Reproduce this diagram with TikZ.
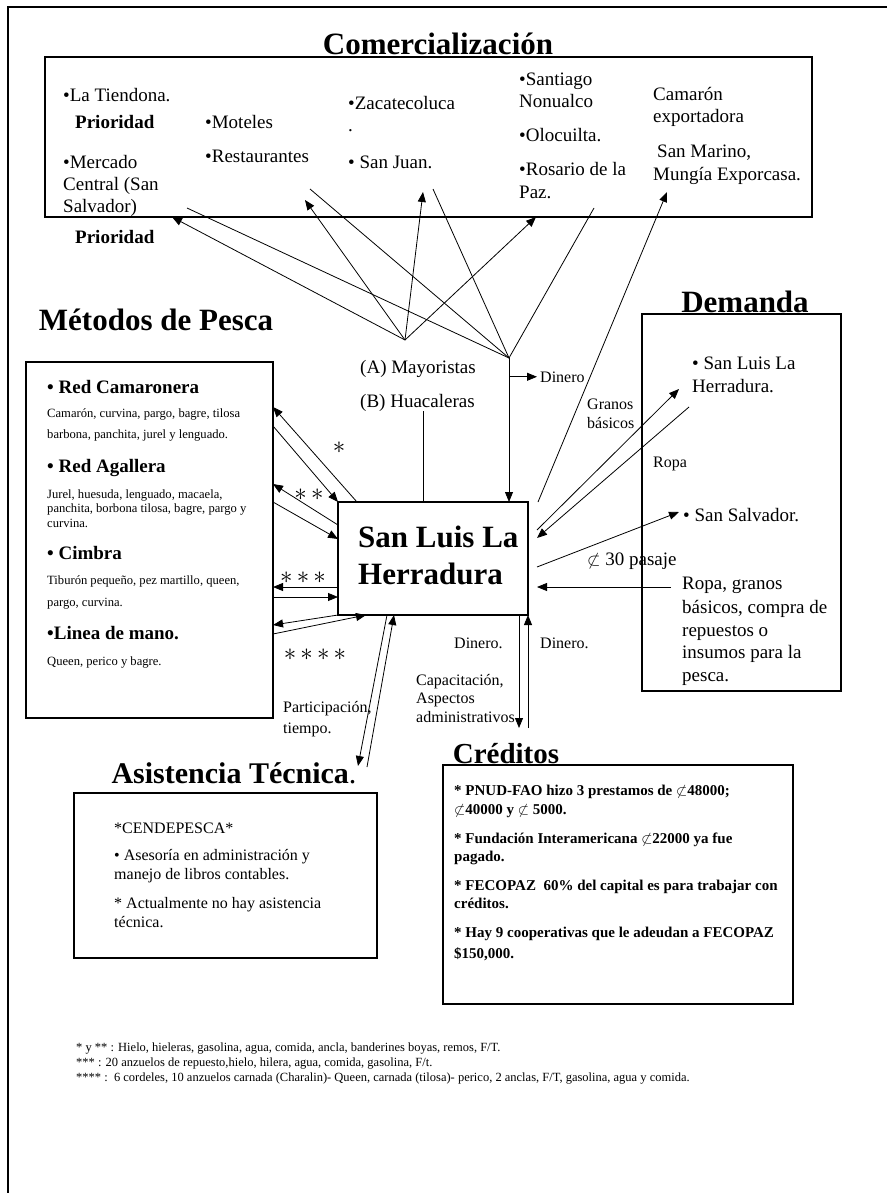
\documentclass[tikz,border=0pt]{standalone}
\usepackage{fontspec}
\setmainfont{Liberation Serif}
\usetikzlibrary{arrows.meta}

\begin{document}
\begin{tikzpicture}[x=1pt,y=-1pt]

\tikzset{box/.style={draw, line width=1.2pt, outer sep=0pt, inner sep=0pt}}
\tikzset{ttl/.style={anchor=base, inner sep=0pt, font=\fontsize{31}{36}\selectfont\bfseries}}
\tikzset{itm/.style={anchor=base west, inner sep=0pt, font=\fontsize{19}{23}\selectfont}}
\tikzset{hdg/.style={itm, font=\fontsize{19}{23}\selectfont\bfseries}}
\tikzset{sml/.style={itm, font=\fontsize{16}{19}\selectfont}}
\tikzset{tny/.style={itm, font=\fontsize{12.6}{15}\selectfont}}
\tikzset{crd/.style={itm, font=\fontsize{15}{18}\selectfont\bfseries}}
\tikzset{fnt/.style={itm, font=\fontsize{12.5}{15}\selectfont}}
\tikzset{big/.style={itm, font=\fontsize{31}{37}\selectfont\bfseries}}
\tikzset{stars/.style={inner sep=0pt, font=\fontsize{26}{30}\selectfont}}
\tikzset{link/.style={line width=0.8pt}}
\tikzset{arr/.style={link, -{Triangle[length=10pt,width=8pt]}}}

\useasboundingbox (0,0) rectangle (887,1193);
\draw[line width=2pt] (8,1193) -- (8,7) -- (887,7);

\node[ttl] (T_C) at (438,55) {Comercialización};
\node[ttl] (T_D) at (745,312) {Demanda};
\node[ttl] (T_M) at (156,330) {Métodos de Pesca};
\node[ttl, font=\fontsize{30}{35}\selectfont\bfseries] (T_A) at (234,783) {Asistencia Técnica{\mdseries.}};
\node[ttl, font=\fontsize{29}{34}\selectfont\bfseries] (T_K) at (506,763) {Créditos};

\node[box, minimum width=767pt, minimum height=160pt] (C) at (428.5,137) {};
\node[box, minimum width=247pt, minimum height=356pt] (M) at (149.5,540) {};
\node[box, minimum width=190pt, minimum height=113pt] (SL) at (433,558.5) {};
\node[box, minimum width=199pt, minimum height=377pt] (D) at (741.5,502.5) {};
\node[box, minimum width=303pt, minimum height=165pt] (A) at (225.5,875.5) {};
\node[box, minimum width=350pt, minimum height=239pt] (K) at (618,884.5) {};

\node[itm] (C_1) at (63,102) {•La Tiendona.};
\node[hdg] (C_2) at (75,129) {Prioridad};
\node[itm] (C_3) at (63,168) {•Mercado};
\node[itm] (C_4) at (63,190) {Central (San};
\node[itm] (C_5) at (63,212) {Salvador)};
\node[hdg] (C_6) at (75,243) {Prioridad};
\node[itm] (C_7) at (205,129) {•Moteles};
\node[itm] (C_8) at (205,163) {•Restaurantes};
\node[itm] (C_9) at (348,110) {•Zacatecoluca};
\node[itm] (C_10) at (348,132) {.};
\node[itm] (C_11) at (348,168) {• San Juan.};
\node[itm] (C_12) at (519,86) {•Santiago};
\node[itm] (C_13) at (519,108) {Nonualco};
\node[itm] (C_14) at (519,142) {•Olocuilta.};
\node[itm] (C_15) at (519,176) {•Rosario de la};
\node[itm] (C_16) at (519,199) {Paz.};
\node[itm] (C_17) at (653,101) {Camarón};
\node[itm] (C_18) at (653,123) {exportadora};
\node[itm] (C_19) at (657,158) {San Marino,};
\node[itm] (C_20) at (653,181) {Mungía Exporcasa.};

\node[hdg] (M_1) at (47,393) {• Red Camaronera};
\node[tny] (M_2) at (47,417) {Camarón, curvina, pargo, bagre, tilosa};
\node[tny] (M_3) at (47,438) {barbona, panchita, jurel y lenguado.};
\node[hdg] (M_4) at (47,472) {• Red Agallera};
\node[tny] (M_5) at (47,498) {Jurel, huesuda, lenguado, macaela,};
\node[tny] (M_6) at (47,512) {panchita, borbona tilosa, bagre, pargo y};
\node[tny] (M_7) at (47,527) {curvina.};
\node[hdg] (M_8) at (47,559) {• Cimbra};
\node[tny] (M_9) at (47,584) {Tiburón pequeño, pez martillo, queen,};
\node[tny] (M_10) at (47,606) {pargo, curvina.};
\node[hdg] (M_11) at (47,639) {•Linea de mano.};
\node[tny] (M_12) at (47,665) {Queen, perico y bagre.};

\node[big] (L_1) at (358,547) {San Luis La};
\node[big] (L_2) at (358,584) {Herradura};

\node[itm] (H_1) at (360,373) {(A) Mayoristas};
\node[itm] (H_2) at (360,407) {(B) Huacaleras};
\node[sml] (N_1) at (540,382) {Dinero};
\node[sml] (G_1) at (587,409) {Granos};
\node[sml] (G_2) at (587,428) {básicos};
\node[sml] (R_1) at (653,467) {Ropa};
\node[itm] (P_1) at (587,565) {$\not\subset$ 30 pasaje};

\node[itm] (D_1) at (692,369) {• San Luis La};
\node[itm] (D_2) at (692,392) {Herradura.};
\node[itm] (D_3) at (683,521) {• San Salvador.};
\node[itm] (D_4) at (682,589) {Ropa, granos};
\node[itm] (D_5) at (682,613) {básicos, compra de};
\node[itm] (D_6) at (682,636) {repuestos o};
\node[itm] (D_7) at (682,658) {insumos para la};
\node[itm] (D_8) at (682,681) {pesca.};

\node[sml] (B_1) at (454,648) {Dinero.};
\node[sml] (B_2) at (540,648) {Dinero.};
\node[sml] (B_3) at (416,685) {Capacitación,};
\node[sml] (B_4) at (416,703) {Aspectos};
\node[sml] (B_5) at (416,722) {administrativos};
\node[sml] (B_6) at (283,712) {Participación,};
\node[sml] (B_7) at (283,733) {tiempo.};

\node[stars] (S_1) at (339,448) {${\ast}$};
\node[stars] (S_2) at (309,495) {${\ast}\,{\ast}$};
\node[stars] (S_3) at (303,578) {${\ast}\,{\ast}\,{\ast}$};
\node[stars] (S_4) at (315,655) {${\ast}\,{\ast}\,{\ast}\,{\ast}$};

\node[sml] (A_1) at (114,833) {*CENDEPESCA*};
\node[sml] (A_2) at (114,860) {• Asesoría en administración y};
\node[sml] (A_3) at (114,879) {manejo de libros contables.};
\node[sml] (A_4) at (114,908) {* Actualmente no hay asistencia};
\node[sml] (A_5) at (114,927) {técnica.};

\node[crd] (K_1) at (454,795) {* PNUD-FAO hizo 3 prestamos de $\not\subset$48000;};
\node[crd] (K_2) at (454,814) {$\not\subset$40000 y $\not\subset$ 5000.};
\node[crd] (K_3) at (454,843) {* Fundación Interamericana $\not\subset$22000 ya fue};
\node[crd] (K_4) at (454,861) {pagado.};
\node[crd] (K_5) at (454,890) {* FECOPAZ\ \ 60\% del capital es para trabajar con};
\node[crd] (K_6) at (454,908) {créditos.};
\node[crd] (K_7) at (454,937) {* Hay 9 cooperativas que le adeudan a FECOPAZ};
\node[crd] (K_8) at (454,958) {\$150,000.};

\node[fnt] (F_1) at (76,1051) {* y ** : Hielo, hieleras, gasolina, agua, comida, ancla, banderines boyas, remos, F/T.};
\node[fnt] (F_2) at (76,1066) {*** : 20 anzuelos de repuesto,hielo, hilera, agua, comida, gasolina, F/t.};
\node[fnt] (F_3) at (76,1081) {**** :\ \ 6 cordeles, 10 anzuelos carnada (Charalin)- Queen, carnada (tilosa)- perico, 2 anclas, F/T, gasolina, agua y comida.};

\coordinate (hA) at (405,340);
\coordinate (hB) at (509,358);
\coordinate (c_1) at (187,208);
\coordinate (c_2) at (305,200);
\coordinate (c_3) at (310,189);
\coordinate (c_4) at (423,192);
\coordinate (c_5) at (433,189);
\coordinate (c_6) at (594,208);
\coordinate (c_7) at (667,192);
\coordinate (s_1) at (538,502);
\coordinate (s_2) at (537,530);
\coordinate (s_3) at (537,538);
\coordinate (s_4) at (537,567);
\coordinate (s_5) at (537,587);
\coordinate (d_1) at (679,389);
\coordinate (d_2) at (689,407);
\coordinate (d_3) at (679,512);
\coordinate (d_4) at (671,587);
\coordinate (t_1) at (367,767);
\coordinate (t_2) at (358,766);
\coordinate (b_1) at (519,728);
\coordinate (b_2) at (528,728);

\draw[arr] (hA) -- (C.south -| 172,0);
\draw[arr] (hA) -- (c_2);
\draw[arr] (hA) -- (c_4);
\draw[arr] (hA) -- (C.south -| 536,0);
\draw[link] (c_1) -- (hB);
\draw[link] (c_3) -- (hB);
\draw[link] (c_5) -- (hB);
\draw[link] (c_6) -- (hB);
\draw[arr] (hB) -- (SL.north -| hB);
\draw[arr, shorten >=3pt] (hB |- N_1.west) -- (N_1.west);
\draw[link] (H_2.south -| 423,0) -- (SL.north -| 423,0);
\draw[arr] (s_1) -- (c_7);

\draw[arr] (SL.north -| 357,0) -- (M.east |- 0,407);
\draw[arr] (M.east |- 0,426) -- (SL.north west);
\draw[arr] (SL.west |- 0,525) -- (M.east |- 0,484);
\draw[arr] (M.east |- 0,502) -- (SL.west |- 0,539);
\draw[arr] (SL.west |- 0,587) -- (M.east |- 0,587);
\draw[arr] (M.east |- 0,597) -- (SL.west |- 0,597);
\draw[arr] (SL.south west) -- (M.east |- 0,625);
\draw[arr] (M.east |- 0,634) -- (SL.south -| 366,0);

\draw[arr] (t_1) -- (SL.south -| 394,0);
\draw[arr] (SL.south -| 387,0) -- (t_2);
\draw[arr] (SL.south -| 519,0) -- (b_1);
\draw[arr] (b_2) -- (SL.south east);

\draw[arr] (s_2) -- (d_1);
\draw[arr] (d_2) -- (s_3);
\draw[arr] (s_4) -- (d_3);
\draw[arr] (d_4) -- (s_5);

\end{tikzpicture}
\end{document}
